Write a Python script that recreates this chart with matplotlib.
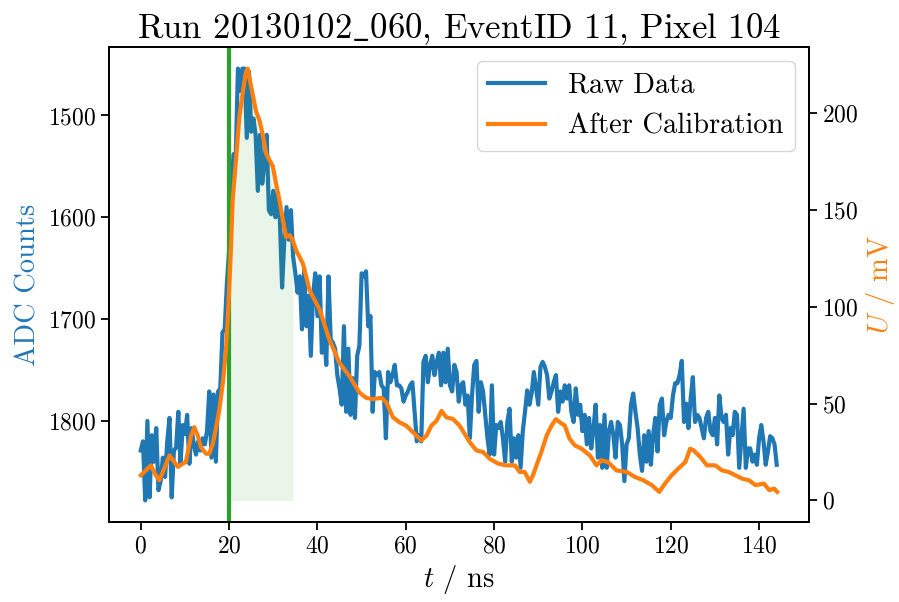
import numpy as np
import matplotlib
matplotlib.use('Agg')
import matplotlib.pyplot as plt

plt.rcParams['font.family'] = ['cmr10', 'DejaVu Serif']
plt.rcParams['mathtext.fontset'] = 'cm'
plt.rcParams['axes.formatter.use_mathtext'] = True

## Raw ADC samples, 0.5 ns apart, starting at t = 0 ns
raw_adc = [
    1829, 1820, 1878, 1800, 1875, 1814, 1840, 1807, 1868, 1859,   # 0 - 4.5
    1836, 1855, 1820, 1797, 1875, 1829, 1826, 1791, 1842, 1804,   # 5 - 9.5
    1813, 1794, 1842, 1807, 1823, 1833, 1820, 1829, 1817, 1823,   # 10 - 14.5
    1810, 1771, 1836, 1774, 1840, 1771, 1768, 1713, 1710, 1665,   # 15 - 19.5
    1632, 1577, 1538, 1541, 1454, 1476, 1454, 1454, 1522, 1457,   # 20 - 24.5
    1516, 1503, 1519, 1574, 1519, 1567, 1545, 1519, 1593, 1597,   # 25 - 29.5
    1574, 1600, 1577, 1603, 1669, 1622, 1590, 1622, 1593, 1639,   # 30 - 34.5
    1655, 1674, 1658, 1710, 1651, 1707, 1677, 1736, 1677, 1655,   # 35 - 39.5
    1697, 1658, 1733, 1710, 1745, 1658, 1720, 1723, 1729, 1755,   # 40 - 44.5
    1768, 1784, 1707, 1791, 1729, 1794, 1758, 1797, 1736, 1726,   # 45 - 49.5
    1655, 1658, 1653, 1707, 1697, 1791, 1752, 1755, 1752, 1765,   # 50 - 54.5
    1768, 1817, 1752, 1762, 1755, 1745, 1765, 1765, 1768, 1781,   # 55 - 59.5
    1775, 1771, 1765, 1762, 1791, 1820, 1814, 1820, 1742, 1736,   # 60 - 64.5
    1762, 1745, 1736, 1755, 1742, 1733, 1765, 1733, 1762, 1729,   # 65 - 69.5
    1765, 1771, 1745, 1752, 1781, 1765, 1762, 1784, 1775, 1817,   # 70 - 74.5
    1775, 1745, 1741, 1791, 1762, 1771, 1794, 1817, 1833, 1765,   # 75 - 79.5
    1833, 1804, 1807, 1801, 1817, 1840, 1801, 1788, 1840, 1817,   # 80 - 84.5
    1836, 1814, 1846, 1810, 1791, 1770, 1784, 1773, 1752, 1768,   # 85 - 89.5
    1784, 1747, 1742, 1747, 1755, 1778, 1771, 1762, 1755, 1791,   # 90 - 94.5
    1771, 1781, 1765, 1778, 1765, 1791, 1801, 1768, 1794, 1784,   # 95 - 99.5
    1810, 1794, 1823, 1797, 1827, 1807, 1784, 1836, 1804, 1846,   # 100 - 104.5
    1794, 1846, 1810, 1801, 1814, 1836, 1801, 1804, 1823, 1859,   # 105 - 109.5
    1823, 1817, 1784, 1773, 1791, 1807, 1833, 1849, 1814, 1840,   # 110 - 114.5
    1810, 1843, 1814, 1797, 1830, 1784, 1778, 1814, 1801, 1794,   # 115 - 119.5
    1797, 1775, 1763, 1763, 1755, 1741, 1801, 1783, 1807, 1778,   # 120 - 124.5
    1757, 1801, 1794, 1797, 1807, 1817, 1797, 1791, 1810, 1814,   # 125 - 129.5
    1797, 1823, 1775, 1797, 1801, 1794, 1833, 1807, 1814, 1791,   # 130 - 134.5
    1794, 1846, 1817, 1788, 1846, 1827, 1827, 1840, 1833, 1843,   # 135 - 139.5
    1817, 1804, 1820, 1843, 1830, 1815, 1817, 1823, 1843,         # 140 - 144
]
t_raw = np.arange(len(raw_adc)) * 0.5

## Calibrated voltage in mV
t_cal = [0, 0.8, 2.3, 3.4, 4.2, 5.3, 6.5, 7.6, 8.4, 9.5, 10.2, 11.4, 12.1, 12.9,
         13.6, 14.8, 15.5, 16.3, 17.0, 17.8, 18.6, 19.3, 19.8, 20.4, 20.8, 21.6,
         22.3, 23.1, 23.8, 24.2, 24.8, 25.4, 26.1, 26.9, 27.6, 28.4, 29.1, 29.9,
         30.6, 31.4, 32.2, 32.9, 33.7, 34.4, 35.2, 36.7, 38.2, 40.5, 42.7, 45.0,
         47.3, 49.5, 51.0, 52.5, 54.5, 55.6, 57.1, 58.6, 60.1, 62.0, 63.5, 64.7,
         65.8, 67.0, 68.1, 69.2, 70.7, 72.2, 74.5, 76.0, 77.5, 79.0, 80.9, 82.8,
         84.7, 85.8, 86.9, 88.1, 88.8, 89.6, 90.7, 91.9, 93.0, 94.0, 94.9, 96.0,
         97.1, 98.3, 99.8, 101.7, 103.2, 104.3, 105.8, 107.7, 110.0, 111.9,
         113.8, 115.7, 117.4, 118.7, 120.2, 121.7, 123.3, 124.4, 125.2, 126.7,
         128.2, 130.1, 131.6, 133.1, 134.6, 136.2, 137.7, 139.2, 141.1, 142.3,
         143.4, 144.1]
u_cal = [13, 14.7, 18.1, 13, 10.4, 16.4, 23.2, 19.8, 17.3, 19, 19.8, 33.5, 37.8, 33.5,
         27.5, 24.1, 24.1, 29.2, 37, 47, 60.9, 78, 98.5, 129, 154.9, 177,
         197.6, 211, 221, 223, 216, 209, 201, 196, 189, 179, 175.9, 172.5,
         164, 155, 144.6, 136, 137, 134.4, 129, 122.4, 108.7, 98.5, 83, 71,
         64, 55.7, 53, 52.3, 53, 50.6, 42.9, 40.3, 38.6, 34.4, 31, 33.5,
         38.6, 41.2, 46.2, 42.9, 42, 38.6, 30, 25.8, 25, 21.5, 19, 18.1,
         18.1, 14.7, 14.7, 9.6, 13, 18.1, 25, 33.5, 38.6, 42, 40.3, 38.6,
         31.8, 28.4, 26.7, 23.2, 18.1, 20.7, 19.8, 15.5, 14.7, 12.1,
         10.4, 7.9, 4.4, 8.7, 13, 16.4, 19.8, 26.7, 25.8, 22.4,
         18.1, 18.1, 15.5, 14.7, 13, 11.2, 10.4, 7.9, 8.7, 5.3,
         6.1, 4.4]

t_start = 20      # signal start [ns]
t_window = 14.5   # integration window [ns]

fig = plt.figure(figsize=(8.99, 6.02), dpi=100)
ax1 = fig.add_axes([0.1212, 0.1329, 0.7787, 0.789])
ax2 = ax1.twinx()

l1, = ax1.plot(t_raw, raw_adc, color='C0', linewidth=3.0, label='Raw Data')
ax1.axvline(t_start, color='C2', linewidth=3.0)
ax1.invert_yaxis()

t_cal = np.array(t_cal)
u_cal = np.array(u_cal)
t_fill = np.linspace(t_start, t_start + t_window, 60)
ax2.fill_between(t_fill, 0, np.interp(t_fill, t_cal, u_cal), color='C2', alpha=0.1, linewidth=0)
l2, = ax2.plot(t_cal, u_cal, color='C1', linewidth=3.0, label='After Calibration')

ax1.set_xticks(np.arange(0, 141, 20))
ax1.set_yticks([1500, 1600, 1700, 1800])
ax2.set_yticks([0, 50, 100, 150, 200])

ax1.set_xlabel(r'$t$ / ns', fontsize=20.5)
ax1.set_ylabel('ADC Counts', color='C0', fontsize=20.5)
ax2.set_ylabel(r'$U$ / mV', color='C1', fontsize=20.5)
ax1.set_title(r'Run 20130102$\_$060, EventID 11, Pixel 104', fontsize=25)

for ax in (ax1, ax2):
    ax.tick_params(labelsize=17, length=6, width=1.3)
    for s in ax.spines.values():
        s.set_linewidth(1.3)

ax2.legend([l1, l2], ['Raw Data', 'After Calibration'], loc='upper right', fontsize=20.5)

fig.savefig('out.png', dpi=100)
